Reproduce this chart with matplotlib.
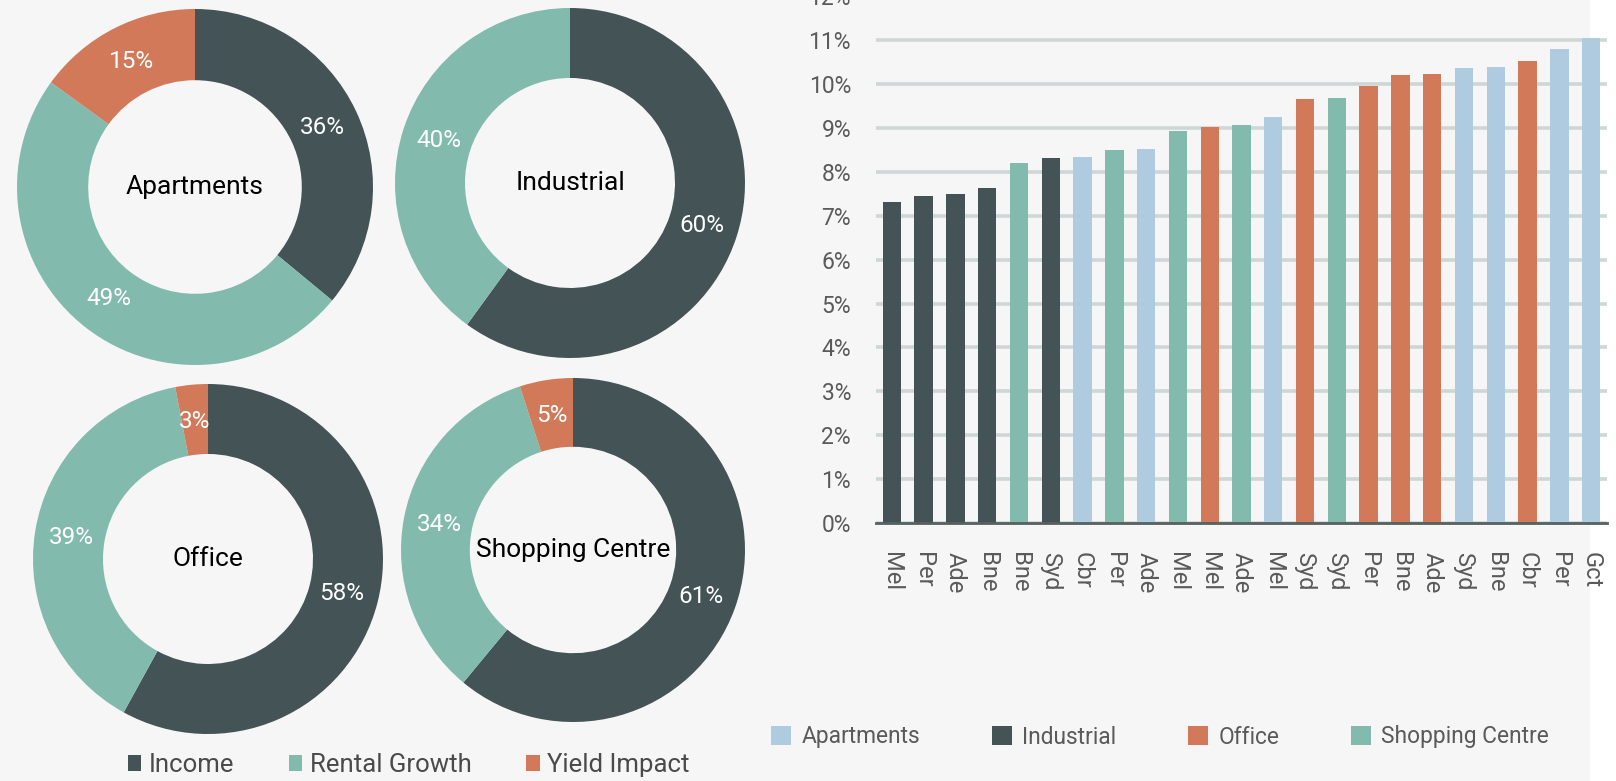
import matplotlib
matplotlib.use('Agg')
import matplotlib.pyplot as plt
from matplotlib.patches import Patch, Rectangle

plt.rcParams['font.family'] = ['Roboto', 'DejaVu Sans']

# ---------------- data ----------------
cities = ['Mel', 'Per', 'Ade', 'Bne', 'Bne', 'Syd', 'Cbr', 'Per', 'Ade', 'Mel', 'Mel', 'Ade',
          'Mel', 'Syd', 'Syd', 'Per', 'Bne', 'Ade', 'Syd', 'Bne', 'Cbr', 'Per', 'Gct']
sectors = ['Industrial', 'Industrial', 'Industrial', 'Industrial', 'Shopping Centre', 'Industrial',
           'Apartments', 'Shopping Centre', 'Apartments', 'Shopping Centre', 'Office', 'Shopping Centre',
           'Apartments', 'Office', 'Shopping Centre', 'Office', 'Office', 'Office', 'Apartments',
           'Apartments', 'Office', 'Apartments', 'Apartments']
returns = [7.32, 7.46, 7.50, 7.64, 8.21, 8.32, 8.34, 8.50, 8.53, 8.94, 9.01, 9.07,
           9.25, 9.66, 9.69, 9.96, 10.21, 10.23, 10.37, 10.39, 10.53, 10.80, 11.05]
yticks = list(range(0, 13))
ytick_labels = [f'{v}%' for v in yticks]

donut_names = ['Apartments', 'Industrial', 'Office', 'Shopping Centre']
components = ['Income', 'Rental Growth', 'Yield Impact']
income = [36, 60, 58, 61]
rental_growth = [49, 40, 39, 34]
yield_impact = [15, 0, 3, 5]

sector_order = ['Apartments', 'Industrial', 'Office', 'Shopping Centre']
sector_colors = {'Apartments': '#aecbdf', 'Industrial': '#435356',
                 'Office': '#d2795a', 'Shopping Centre': '#82bbad'}
comp_colors = ['#435356', '#82bbad', '#d2795a']

# ---------------- figure ----------------
W, H = 1616, 781
fig = plt.figure(figsize=(W / 100, H / 100), dpi=100, facecolor='#f6f6f6')
fig.patches.append(Rectangle((1590 / W, 0), 1 - 1590 / W, 1, transform=fig.transFigure,
                             facecolor='white', edgecolor='none', zorder=-5))

# donut placement (pixels: centre x, centre y from top, outer radius)
donut_pos = [(195, 187, 178), (570, 183, 175), (208, 559, 175), (573, 550, 172)]

for name, inc, rg, yi, (cx, cy, R) in zip(donut_names, income, rental_growth, yield_impact, donut_pos):
    ax = fig.add_axes([(cx - R) / W, (H - cy - R) / H, 2 * R / W, 2 * R / H])
    vals, cols = [], []
    for v, c in zip([inc, rg, yi], comp_colors):
        if v > 0:
            vals.append(v)
            cols.append(c)
    ax.pie(vals, colors=cols, startangle=90, counterclock=False, radius=1,
           wedgeprops=dict(width=0.4, edgecolor='none'),
           autopct=lambda p: f'{p:.0f}%', pctdistance=0.79,
           textprops=dict(color='white', fontsize=17.5))
    ax.text(0, 0.0, name, ha='center', va='center', fontsize=19, color='black')
    ax.set_xlim(-1, 1)
    ax.set_ylim(-1, 1)
    ax.set_aspect('equal')
    ax.axis('off')

fig.legend(handles=[Patch(facecolor=c, label=l) for c, l in zip(comp_colors, components)],
           loc='center left', bbox_to_anchor=(128 / W, (H - 765) / H), ncol=3, frameon=False,
           fontsize=18.5, handlelength=0.52, handleheight=0.58, handletextpad=0.3,
           columnspacing=2.12, borderpad=0, borderaxespad=0, labelcolor='#4a4a4a')

# ---------------- bar chart ----------------
axb = fig.add_axes([876 / W, (H - 523) / H, 731 / W, (523 + 3.8) / H])
axb.set_facecolor('none')
x = list(range(len(cities)))
axb.bar(x, returns, width=0.58, color=[sector_colors[s] for s in sectors], zorder=3)
axb.set_xlim(-0.5, len(cities) - 0.5)
axb.set_ylim(0, 12)
axb.set_yticks(yticks)
axb.set_yticklabels(ytick_labels)
axb.set_xticks(x)
axb.set_xticklabels(cities, rotation=-90, va='top', ha='center')
axb.yaxis.grid(True, color='#cfd6d6', linewidth=2.6, zorder=0)
axb.set_axisbelow(True)
for s in ['top', 'right', 'left']:
    axb.spines[s].set_visible(False)
axb.spines['bottom'].set_color('#55615f')
axb.spines['bottom'].set_linewidth(2)
axb.spines['bottom'].set_zorder(4)
axb.tick_params(axis='y', length=0, pad=18, labelsize=16.5, labelcolor='#5a5a5a')
axb.tick_params(axis='x', length=0, pad=21, labelsize=17, labelcolor='#5a5a5a')

fig.legend(handles=[Patch(facecolor=sector_colors[s], label=s) for s in sector_order],
           loc='center left', bbox_to_anchor=(771 / W, (H - 737) / H), ncol=4, frameon=False,
           fontsize=16.4, handlelength=0.88, handleheight=0.88, handletextpad=0.45,
           columnspacing=3.15, borderpad=0, borderaxespad=0, labelcolor='#5a5a5a')

fig.savefig('out.png', dpi=100, facecolor=fig.get_facecolor())
